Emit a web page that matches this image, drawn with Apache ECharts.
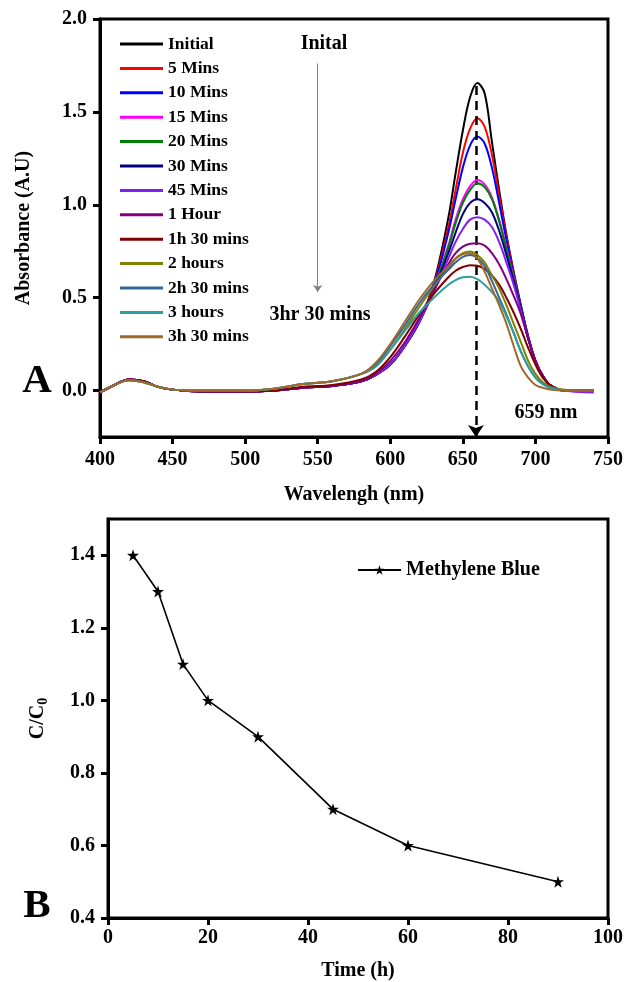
<!DOCTYPE html>
<html>
<head>
<meta charset="utf-8">
<script src="https://cdn.jsdelivr.net/npm/echarts@6/dist/echarts.min.js"></script>
<style>html,body{margin:0;padding:0;background:#fff;}#c{width:631px;height:982px;}</style>
</head>
<body>
<div id="c"></div>
<script>
// ---------- Panel A data ----------
const wavelengths = [400,410,420,430,440,450,470,500,520,540,560,580,590,600,610,620,630,640,645,650,655,660,665,670,675,680,685,690,695,700,705,710,720,740];
const seriesNames = ['Initial','5 Mins','10 Mins','15 Mins','20 Mins','30 Mins','45 Mins','1 Hour','1h 30 mins','2 hours','2h 30 mins','3 hours','3h 30 mins'];
const seriesColors = ['#000000','#ff0000','#0000ff','#ff00ff','#008000','#000080','#8020f0','#800080','#800000','#808000','#336699','#2e9e9e','#a0682c'];

const absInitial = [-0.01,0.03,0.06,0.05,0.02,0.005,-0.005,-0.005,0.0,0.015,0.025,0.05, 0.085,0.14,0.24,0.37,0.58,0.93,1.17,1.40,1.58,1.655,1.60,1.34,1.08,0.84,0.64,0.46,0.29,0.16,0.08,0.03,0.0,0.0];
const abs5m      = [-0.01,0.03,0.06,0.05,0.02,0.005,-0.005,-0.005,0.0,0.015,0.025,0.05, 0.085,0.14,0.24,0.37,0.57,0.88,1.08,1.28,1.41,1.466,1.42,1.27,1.05,0.83,0.63,0.45,0.29,0.16,0.08,0.03,0.0,0.0];
const abs10m     = [-0.01,0.03,0.06,0.05,0.02,0.005,-0.005,-0.005,0.0,0.015,0.025,0.05, 0.085,0.14,0.24,0.37,0.56,0.85,1.03,1.20,1.32,1.367,1.33,1.20,1.01,0.81,0.62,0.45,0.29,0.16,0.08,0.03,0.0,-0.005];
const abs15m     = [-0.01,0.03,0.06,0.05,0.02,0.005,-0.005,-0.005,0.0,0.015,0.025,0.05, 0.085,0.14,0.24,0.37,0.55,0.78,0.92,1.03,1.10,1.134,1.11,1.04,0.92,0.77,0.61,0.44,0.28,0.16,0.08,0.03,0.0,-0.005];
const abs20m     = [-0.01,0.03,0.06,0.05,0.02,0.005,-0.005,-0.005,0.0,0.015,0.025,0.05, 0.085,0.14,0.24,0.37,0.55,0.77,0.90,1.01,1.08,1.116,1.095,1.03,0.91,0.76,0.60,0.44,0.28,0.16,0.08,0.03,0.0,0.0];
const abs30m     = [-0.01,0.03,0.06,0.05,0.02,0.005,-0.005,-0.005,0.0,0.015,0.025,0.05, 0.085,0.14,0.24,0.37,0.54,0.74,0.85,0.95,1.01,1.03,1.01,0.96,0.86,0.73,0.59,0.44,0.28,0.16,0.08,0.03,0.0,0.0];
const abs45m     = [-0.01,0.03,0.06,0.05,0.02,0.005,-0.005,-0.005,0.0,0.015,0.025,0.05, 0.085,0.14,0.24,0.37,0.53,0.71,0.80,0.87,0.92,0.933,0.92,0.88,0.80,0.69,0.57,0.43,0.28,0.16,0.08,0.03,0.0,-0.01];
const abs1h      = [-0.01,0.03,0.06,0.05,0.02,0.005,-0.005,-0.005,0.0,0.015,0.025,0.05, 0.09,0.16,0.26,0.39,0.54,0.68,0.74,0.775,0.79,0.793,0.78,0.74,0.68,0.60,0.51,0.41,0.28,0.16,0.08,0.03,0.0,0.0];
const abs1h30    = [-0.01,0.03,0.06,0.05,0.02,0.005,-0.005,-0.005,0.0,0.02,0.03,0.06, 0.10,0.18,0.29,0.41,0.52,0.61,0.645,0.665,0.675,0.672,0.655,0.62,0.57,0.50,0.42,0.33,0.23,0.14,0.07,0.03,0.0,0.0];
const abs2h      = [-0.01,0.03,0.055,0.045,0.02,0.005,0.0,0.0,0.01,0.035,0.05,0.09, 0.13,0.22,0.33,0.45,0.56,0.66,0.71,0.74,0.748,0.73,0.69,0.62,0.55,0.46,0.36,0.26,0.16,0.09,0.045,0.02,0.005,0.0];
const abs2h30    = [-0.01,0.03,0.055,0.045,0.02,0.005,0.0,0.0,0.01,0.035,0.05,0.09, 0.14,0.24,0.35,0.47,0.57,0.65,0.69,0.72,0.73,0.715,0.67,0.59,0.50,0.41,0.31,0.21,0.13,0.07,0.035,0.015,0.0,0.0];
const abs3h      = [-0.01,0.03,0.055,0.045,0.02,0.005,0.0,0.0,0.01,0.035,0.05,0.09, 0.13,0.22,0.32,0.42,0.50,0.57,0.595,0.61,0.613,0.60,0.57,0.53,0.48,0.40,0.31,0.21,0.13,0.07,0.035,0.015,0.0,0.0];
const abs3h30    = [-0.01,0.03,0.055,0.045,0.02,0.005,0.0,0.0,0.01,0.035,0.05,0.09, 0.15,0.25,0.37,0.49,0.59,0.67,0.71,0.735,0.739,0.71,0.64,0.55,0.46,0.36,0.24,0.13,0.07,0.03,0.015,0.005,0.0,0.0];
const absAll = [absInitial,abs5m,abs10m,abs15m,abs20m,abs30m,abs45m,abs1h,abs1h30,abs2h,abs2h30,abs3h,abs3h30];

const aYTicks = [0.0,0.5,1.0,1.5,2.0];

// ---------- Panel B data ----------
const timeH = [5,10,15,20,30,45,60,90];
const ratioC = [1.4,1.3,1.1,1.0,0.9,0.7,0.6,0.5];
const bYTicks = [0.4,0.6,0.8,1.0,1.2,1.4];

const FF = '"Liberation Serif","Times New Roman",serif';
const tickFont = {fontFamily: FF, fontWeight: 'bold', fontSize: 20, color: '#000'};
const nameFont = {fontFamily: FF, fontWeight: 'bold', fontSize: 20, color: '#000'};
const axLine = {show: true, onZero: false, lineStyle: {color: '#000', width: 3}};
const axTick = {show: true, inside: false, length: 7, lineStyle: {color: '#000', width: 3}};
const annFont = 'bold 20px "Liberation Serif"';

const chart = echarts.init(document.getElementById('c'), null, {renderer: 'canvas'});

const seriesA = seriesNames.map((n, i) => ({
  name: n,
  type: 'line',
  xAxisIndex: 0, yAxisIndex: 0,
  data: wavelengths.map((w, k) => [w, absAll[i][k]]),
  showSymbol: false,
  smooth: 0.35,
  lineStyle: {color: seriesColors[i], width: 2},
  itemStyle: {color: seriesColors[i]},
  z: 2 + i,
  animation: false
}));

seriesA[0].markLine = {
  silent: true,
  animation: false,
  symbol: ['none', 'arrow'],
  label: {show: false},
  emphasis: {disabled: true},
  data: [
    [{coord: [659, 1.64], symbolSize: 12, lineStyle: {color: '#000', width: 2.5, type: [9, 6]}},
     {coord: [659, -0.25], symbolSize: 12}],
    [{coord: [550, 1.76], symbolSize: 7, lineStyle: {color: '#808080', width: 1, type: 'solid'}},
     {coord: [550, 0.53], symbolSize: 7}]
  ]
};

const option = {
  backgroundColor: '#fff',
  animation: false,
  grid: [
    {left: 100, top: 19, width: 508, height: 418, show: true, borderColor: '#000', borderWidth: 3, backgroundColor: 'transparent'},
    {left: 108, top: 519, width: 500, height: 400, show: true, borderColor: '#000', borderWidth: 3, backgroundColor: 'transparent'}
  ],
  legend: [
    {
      data: seriesNames,
      orient: 'vertical',
      left: 120, top: 35, padding: 0,
      itemWidth: 43, itemHeight: 3, itemGap: 6.4,
      icon: 'rect',
      selectedMode: false,
      textStyle: {fontFamily: FF, fontWeight: 'bold', fontSize: 17.5, color: '#000'}
    },
    {
      data: ['Methylene Blue'],
      orient: 'horizontal',
      left: 357, top: 560, padding: 0,
      itemWidth: 43, itemHeight: 12, itemGap: 5,
      selectedMode: false,
      textStyle: {fontFamily: FF, fontWeight: 'bold', fontSize: 20, color: '#000'}
    }
  ],
  xAxis: [
    {
      type: 'value', gridIndex: 0, min: 400, max: 750, interval: 50,
      name: 'Wavelengh (nm)', nameLocation: 'middle', nameGap: 48, nameTextStyle: nameFont,
      axisLine: axLine, axisTick: axTick, splitLine: {show: false},
      axisLabel: Object.assign({margin: 13}, tickFont)
    },
    {
      type: 'value', gridIndex: 1, min: 0, max: 100, interval: 20,
      name: 'Time (h)', nameLocation: 'middle', nameGap: 43, nameTextStyle: nameFont,
      axisLine: axLine, axisTick: axTick, splitLine: {show: false},
      axisLabel: Object.assign({margin: 10}, tickFont)
    }
  ],
  yAxis: [
    {
      type: 'value', gridIndex: 0, min: -0.25, max: 2.0,
      name: 'Absorbance (A.U)', nameLocation: 'middle', nameGap: 66, nameTextStyle: nameFont,
      axisLine: axLine,
      axisTick: Object.assign({customValues: aYTicks}, axTick),
      splitLine: {show: false},
      axisLabel: Object.assign({customValues: aYTicks, margin: 13, formatter: v => Number(v).toFixed(1)}, tickFont)
    },
    {
      type: 'value', gridIndex: 1, min: 0.4, max: 1.5,
      name: 'C/C{s|0}', nameLocation: 'middle', nameGap: 58,
      nameTextStyle: Object.assign({rich: {s: {fontFamily: FF, fontWeight: 'bold', fontSize: 14, color: '#000', padding: [10, 0, 0, 0]}}}, nameFont),
      axisLine: axLine,
      axisTick: Object.assign({customValues: bYTicks}, axTick),
      splitLine: {show: false},
      axisLabel: Object.assign({customValues: bYTicks, margin: 13, formatter: v => Number(v).toFixed(1)}, tickFont)
    }
  ],
  graphic: [
    {type: 'text', x: 37, y: 381, style: {text: 'A', font: 'bold 41px "Liberation Serif"', fill: '#000', align: 'center', verticalAlign: 'middle', textAlign: 'center', textVerticalAlign: 'middle'}},
    {type: 'text', x: 37, y: 906, style: {text: 'B', font: 'bold 41px "Liberation Serif"', fill: '#000', align: 'center', verticalAlign: 'middle', textAlign: 'center', textVerticalAlign: 'middle'}},
    {type: 'text', x: 324, y: 44, style: {text: 'Inital', font: annFont, fill: '#000', align: 'center', verticalAlign: 'middle', textAlign: 'center', textVerticalAlign: 'middle'}},
    {type: 'text', x: 320, y: 315, style: {text: '3hr 30 mins', font: annFont, fill: '#000', align: 'center', verticalAlign: 'middle', textAlign: 'center', textVerticalAlign: 'middle'}},
    {type: 'text', x: 546, y: 413, style: {text: '659 nm', font: annFont, fill: '#000', align: 'center', verticalAlign: 'middle', textAlign: 'center', textVerticalAlign: 'middle'}}
  ],
  series: seriesA.concat([
    {
      name: 'Methylene Blue',
      type: 'line',
      xAxisIndex: 1, yAxisIndex: 1,
      data: timeH.map((t, i) => [t, ratioC[i]]),
      symbol: 'path://M50,0 L61.8,35.4 L100,35.4 L69.1,57.3 L80.9,93.3 L50,71.4 L19.1,93.3 L30.9,57.3 L0,35.4 L38.2,35.4 Z',
      symbolSize: 12,
      showSymbol: true,
      lineStyle: {color: '#000', width: 1.6},
      itemStyle: {color: '#000'},
      animation: false
    }
  ])
};
chart.setOption(option);
</script>
</body>
</html>
